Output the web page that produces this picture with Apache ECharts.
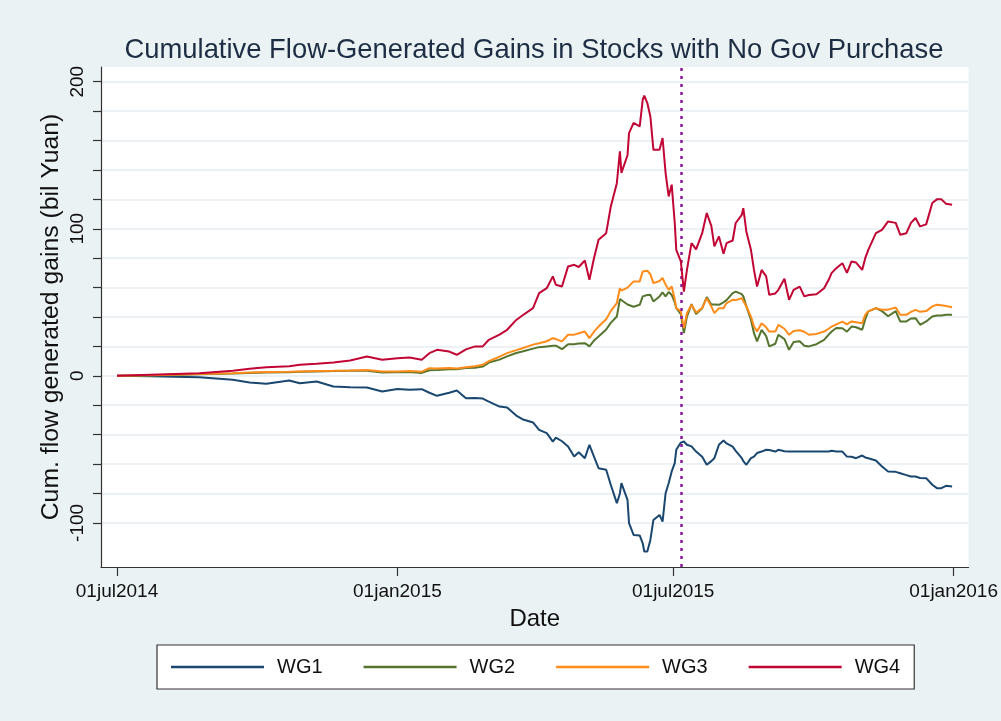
<!DOCTYPE html>
<html><head><meta charset="utf-8">
<script src="https://cdn.jsdelivr.net/npm/echarts@6/dist/echarts.min.js"></script>
<style>html,body{margin:0;padding:0;background:#eaf2f3}#c{width:1001px;height:721px}</style>
</head><body><div id="c"></div>
<script>
const dates = ['2014-07-01','2014-07-23','2014-08-24','2014-09-15','2014-09-26','2014-10-07','2014-10-22','2014-10-29','2014-11-09','2014-11-20',
'2014-12-01','2014-12-12','2014-12-22','2015-01-01','2015-01-09','2015-01-17','2015-01-22','2015-01-27','2015-02-04','2015-02-09',
'2015-02-15','2015-02-21','2015-02-26','2015-03-02','2015-03-09','2015-03-14','2015-03-20','2015-03-24','2015-03-31','2015-04-04',
'2015-04-09','2015-04-13','2015-04-15','2015-04-19','2015-04-23','2015-04-27','2015-04-30','2015-05-04','2015-05-07','2015-05-10',
'2015-05-13','2015-05-18','2015-05-21','2015-05-25','2015-05-27','2015-05-28','2015-06-01','2015-06-02','2015-06-05','2015-06-09',
'2015-06-11','2015-06-12','2015-06-14','2015-06-16','2015-06-18','2015-06-22','2015-06-24','2015-06-26','2015-06-28','2015-06-30',
'2015-07-02','2015-07-03','2015-07-06','2015-07-08','2015-07-10','2015-07-13','2015-07-16','2015-07-20','2015-07-23','2015-07-26',
'2015-07-28','2015-07-31','2015-08-03','2015-08-05','2015-08-09','2015-08-11','2015-08-15','2015-08-16','2015-08-18','2015-08-21',
'2015-08-23','2015-08-25','2015-08-28','2015-08-31','2015-09-02','2015-09-06','2015-09-08','2015-09-12','2015-09-15','2015-09-18',
'2015-09-22','2015-09-25','2015-09-28','2015-10-03','2015-10-08','2015-10-11','2015-10-13','2015-10-16','2015-10-20','2015-10-23',
'2015-10-26','2015-10-29','2015-11-02','2015-11-04','2015-11-06','2015-11-11','2015-11-15','2015-11-19','2015-11-24','2015-11-27',
'2015-12-01','2015-12-04','2015-12-07','2015-12-10','2015-12-14','2015-12-18','2015-12-21','2015-12-24','2015-12-27','2015-12-31'];

const wg1 = [0,-0.3,-0.9,-2.7,-4.5,-5.4,-3.2,-5.0,-3.9,-7.3,
-7.8,-8.0,-10.7,-9.0,-9.5,-9.1,-11.5,-13.6,-11.5,-10.0,
-15.2,-15.0,-15.5,-17.5,-20.9,-21.5,-27,-29.5,-31.7,-36.7,
-39,-44.7,-42,-44.5,-48,-54.9,-52,-56,-46.9,-54.9,
-62.8,-63.9,-74.1,-86.6,-80,-73,-84.4,-100.2,-108.2,-108.5,
-114,-119.5,-119.5,-111.6,-98,-94.6,-99.1,-79.8,-73,-65,
-59.4,-50.3,-45.4,-44.7,-46.9,-48,-51.5,-55,-60.5,-58,
-56,-46.9,-44,-46,-48.1,-51,-56,-58,-60.5,-56,
-54.9,-52.5,-51.5,-50.3,-50.5,-51.5,-50.3,-51.3,-51.5,-51.5,
-51.5,-51.5,-51.5,-51.5,-51.5,-51.5,-51,-51.5,-51.5,-54.9,
-55,-56,-54.2,-55.5,-56,-57.6,-61.7,-65.1,-65.3,-66.2,
-67.5,-68.5,-68.5,-69.5,-69.6,-74.1,-76.4,-76.4,-74.8,-75.3];

const wg2 = [0,0.3,1.0,1.6,2.0,2.3,2.5,2.8,3.0,3.2,
3.4,3.5,2.3,2.5,2.6,2.0,3.8,3.9,4.5,4.5,
5.3,5.5,6.3,9.0,11,13.2,15.5,16.5,18.5,19.5,
20,20.4,20.5,18.1,21.5,21.5,22,22.2,20,24,
26.8,31.5,36,40.3,52.2,51,48.5,48.3,47,48.3,
54,53,55,55.1,50.6,54,56.7,54,57,55,
50,46,42,29,40.3,48.8,42,46,53.5,48.5,
48.5,48.3,50,51.5,56.2,57.3,55.5,54,47.2,38.1,
29,23.4,31.3,27,20,21.8,27.9,25,17.7,23,
23.5,20.5,20,21.5,24.5,28,30.1,32.5,32.4,30,
33.5,33,31.3,38.5,43.8,46,44,40.5,44,36.9,
37,39,39.2,34.7,37,40.3,41,41,41.5,41.5];

const wg3 = [0,0.4,1.2,1.8,2.3,2.6,2.8,3.0,3.3,3.4,
3.6,3.9,2.9,3.0,3.2,2.8,5.2,5.0,5.3,5.0,
5.9,6.5,7.5,10,13,15.4,17.5,18.8,21.2,22.2,
23.5,25.6,25,23.4,27.9,28,29,30.1,25.6,30,
33.5,38.5,44,49.5,59.6,58,60,60.7,64.2,64.2,
71,72,71.5,69,63,64.5,66.5,62,58.5,60.7,
52,46,43.8,32.4,42.6,48.3,43,46,52.8,47.2,
42.6,46,46,49.5,51.7,51.5,52.8,54,47.2,40.3,
33.5,30.1,35.8,33,30.1,30.1,34.7,32,27.9,30.5,
31,30,27.9,28.5,30.1,32,33.5,35,36.9,35,
37,36.5,35.8,41.5,43.8,46,45,45,46.5,41.5,
41.5,43.5,44.9,43.5,44,47.2,48.3,48,47.5,46.7];

const wg4 = [0,0.8,1.8,3.5,4.8,5.8,6.5,7.5,8.2,9.0,
10.4,13.2,11,12.0,12.5,11.0,15.4,17.7,16.5,14.3,
18.0,20.0,20.0,24.5,28,31.3,38,41,46,56.2,
59.6,67.6,61.9,60.7,74.4,75.5,74,78.4,65.3,80,
92.5,97,115,131,152.6,138,150,165,172,169.6,
187.8,190.5,185.5,176.4,153.7,153.7,161.7,137.9,122,130,
103.9,85.7,77.8,57.3,72,90.2,86,97,110.7,102,
88,94.8,83,90.2,92,103.9,109.5,114,98,85.7,
72,60.7,72,67.6,55.1,56,58.5,66,51.7,58.5,
60.7,54,55,55.5,59.6,65.3,70,73.2,76.6,70,
77.8,77,72,80,85.7,97,99.3,105,104,95.9,
97,104,107.3,101.6,103,117.5,120,120,117,116.3];

const seriesNames = ['WG1','WG2','WG3','WG4'];
const seriesColors = ['#1a476f','#55752f','#ff8c1a','#c10534'];
const xTickDates = ['2014-07-01','2015-01-01','2015-07-01','2016-01-01'];
const xTickLabels = ['01jul2014','01jan2015','01jul2015','01jan2016'];
const yTickValues = [-100,-80,-60,-40,-20,0,20,40,60,80,100,120,140,160,180,200];
const yLabelValues = [-100,0,100,200];
const govDate = '2015-07-06';

function ts(s){const p=s.split('-').map(Number);return Date.UTC(p[0],p[1]-1,p[2]);}
const xTickTs = xTickDates.map(ts);
const labelMap = {};
xTickTs.forEach((t,i)=>labelMap[t]=xTickLabels[i]);

const FONT = 'Liberation Sans, Arial, sans-serif';
const allVals = [wg1,wg2,wg3,wg4];

const chart = echarts.init(document.getElementById('c'), null, {renderer:'canvas'});
chart.setOption({
  animation:false,
  backgroundColor:'#eaf2f3',
  title:{
    text:'Cumulative Flow-Generated Gains in Stocks with No Gov Purchase',
    left:529, top:32, textAlign:'center',
    textStyle:{fontFamily:FONT,fontSize:27.4,fontWeight:'normal',color:'#1e2d44'}
  },
  grid:{left:101,right:31,top:67,bottom:154,show:true,backgroundColor:'#ffffff',borderWidth:0},
  legend:{
    data:seriesNames, left:157, top:645, orient:'horizontal',
    backgroundColor:'#ffffff', borderColor:'#333333', borderWidth:1.2,
    padding:[12,14], itemWidth:93, itemHeight:2.5, itemGap:41, icon:'rect',
    textStyle:{fontFamily:FONT,fontSize:20,color:'#111',padding:[0,0,0,8]}
  },
  xAxis:{
    type:'value',
    min:Date.UTC(2014,5,20,12),
    max:Date.UTC(2016,0,10,19),
    name:'Date', nameLocation:'middle', nameGap:40, nameMoveOverlap:false,
    nameTextStyle:{fontFamily:FONT,fontSize:24,color:'#111'},
    axisLine:{show:true,onZero:false,lineStyle:{color:'#333',width:1.2}},
    axisTick:{show:true,customValues:xTickTs,length:9,lineStyle:{color:'#333',width:1.2}},
    axisLabel:{customValues:xTickTs,formatter:v=>labelMap[v]||'',fontFamily:FONT,fontSize:19,color:'#111',margin:15,hideOverlap:false},
    splitLine:{show:false}
  },
  yAxis:{
    type:'value', min:-130, max:210,
    name:'Cum. flow generated gains (bil Yuan)', nameLocation:'middle', nameGap:37, nameRotate:90, nameMoveOverlap:false,
    nameTextStyle:{fontFamily:FONT,fontSize:24.8,color:'#111'},
    axisLine:{show:true,onZero:false,lineStyle:{color:'#333',width:1.2}},
    axisTick:{show:true,customValues:yTickValues,length:8,lineStyle:{color:'#333',width:1.2}},
    axisLabel:{customValues:yLabelValues,rotate:90,fontFamily:FONT,fontSize:19,color:'#111',margin:14},
    splitLine:{show:true,lineStyle:{color:'#e4edf0',width:1.5}}
  },
  series: seriesNames.map((n,k)=>({
    name:n, type:'line', showSymbol:false, symbol:'none',
    data:dates.map((d,i)=>[ts(d),allVals[k][i]]),
    lineStyle:{color:seriesColors[k],width:2},
    itemStyle:{color:seriesColors[k]},
    z:2+k,
    markLine: k===3 ? {
      silent:true, symbol:['none','none'], label:{show:false},
      lineStyle:{color:'#8b1a9b',type:[3,5],width:2.5},
      data:[{xAxis:ts(govDate)}]
    } : undefined
  }))
});
</script></body></html>
